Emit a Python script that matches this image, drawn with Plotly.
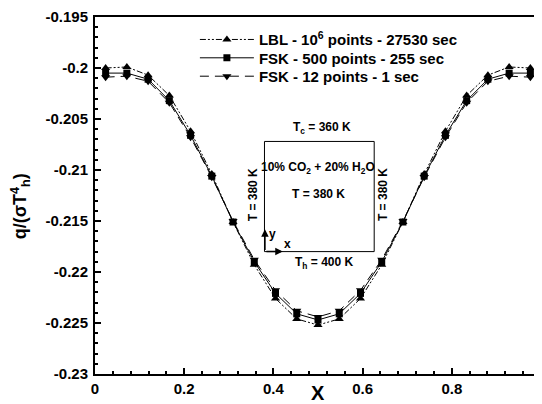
import plotly.graph_objects as go

# Data (cell centres of a 21-cell grid)
x_vals = [(k + 0.5) / 21 for k in range(21)]
lbl_half = [-0.2000, -0.1999, -0.2007, -0.2027, -0.2062, -0.2104, -0.2151, -0.2193, -0.2226, -0.2246, -0.2252]
fsk500_half = [-0.2005, -0.2005, -0.2011, -0.2032, -0.2066, -0.2106, -0.2151, -0.2190, -0.2221, -0.2241, -0.2247]
fsk12_half = [-0.2009, -0.2008, -0.2013, -0.2034, -0.2068, -0.2107, -0.2150, -0.2188, -0.2218, -0.2238, -0.2244]
lbl = lbl_half + lbl_half[-2::-1]
fsk500 = fsk500_half + fsk500_half[-2::-1]
fsk12 = fsk12_half + fsk12_half[-2::-1]

names = ["LBL - 10<sup>6</sup> points - 27530 sec",
         "FSK - 500 points - 255 sec",
         "FSK - 12 points - 1 sec"]

x_ticks = [0, 0.2, 0.4, 0.6, 0.8, 1]
x_ticktext = ["0", "0.2", "0.4", "0.6", "0.8", "1"]
y_ticks = [-0.23, -0.225, -0.22, -0.215, -0.21, -0.205, -0.2, -0.195]
y_ticktext = ["-0.23", "-0.225", "-0.22", "-0.215", "-0.21", "-0.205", "-0.2", "-0.195"]

FONT = "Liberation Sans, Arial, sans-serif"
legend_font = dict(family=FONT, size=15, color="black", weight="bold")

fig = go.Figure()
fig.add_trace(go.Scatter(x=x_vals, y=lbl, name=names[0], mode="lines+markers", legend="legend",
                         line=dict(color="black", width=1, dash="6px,2px,2px,2px,2px,2px"),
                         marker=dict(symbol="triangle-up", size=8, color="black")))
fig.add_trace(go.Scatter(x=x_vals, y=fsk500, name=names[1], mode="lines+markers", legend="legend2",
                         line=dict(color="black", width=1),
                         marker=dict(symbol="square", size=7, color="black")))
fig.add_trace(go.Scatter(x=x_vals, y=fsk12, name=names[2], mode="lines+markers", legend="legend3",
                         line=dict(color="black", width=1, dash="9px,6px"),
                         marker=dict(symbol="triangle-down", size=8, color="black")))

# Inset box (schematic of the enclosure)
fig.add_shape(type="rect", x0=0.380, x1=0.626, y0=-0.2180, y1=-0.2072,
              line=dict(color="black", width=1))

ann_font = dict(family=FONT, size=12, color="black", weight="bold")
annotations = [
    dict(x=0.509, y=-0.2059, text="T<sub>c</sub> = 360 K"),
    dict(x=0.500, y=-0.2098, text="10% CO<sub>2</sub> + 20% H<sub>2</sub>O"),
    dict(x=0.500, y=-0.2124, text="T = 380 K"),
    dict(x=0.515, y=-0.2191, text="T<sub>h</sub> = 400 K"),
    dict(x=0.356, y=-0.2124, text="T = 380 K", textangle=-90),
    dict(x=0.647, y=-0.2124, text="T = 380 K", textangle=-90),
    dict(x=0.398, y=-0.2163, text="y"),
    dict(x=0.432, y=-0.2173, text="x"),
]
for a in annotations:
    fig.add_annotation(xref="x", yref="y", showarrow=False, font=ann_font, **a)

# axis arrows
fig.add_annotation(xref="x", yref="y", axref="x", ayref="y",
                   x=0.381, y=-0.2158, ax=0.381, ay=-0.2180, text="",
                   showarrow=True, arrowhead=2, arrowsize=1, arrowwidth=1.5, arrowcolor="black")
fig.add_annotation(xref="x", yref="y", axref="x", ayref="y",
                   x=0.421, y=-0.2180, ax=0.381, ay=-0.2180, text="",
                   showarrow=True, arrowhead=2, arrowsize=1, arrowwidth=1.5, arrowcolor="black")

# axis titles
fig.add_annotation(xref="paper", yref="paper", x=0.5, y=-0.053, yanchor="middle",
                   showarrow=False, text="X",
                   font=dict(family=FONT, size=20, color="black", weight="bold"))
fig.add_annotation(xref="paper", yref="paper", x=-0.168, y=0.47, xanchor="center",
                   showarrow=False, text="q/(σT<sup>4</sup><sub>h</sub>)", textangle=-90,
                   font=dict(family=FONT, size=18, color="black", weight="bold"))

axis_common = dict(showline=True, linecolor="black", linewidth=2, mirror=True,
                   ticks="inside", ticklen=6, tickwidth=1.5, tickcolor="black",
                   showgrid=False, zeroline=False, automargin=False,
                   ticklabeloverflow="allow",
                   tickfont=dict(family=FONT, size=15, color="black", weight="bold"))

fig.update_xaxes(range=[0, 1], tickvals=x_ticks, ticktext=x_ticktext,
                 minor=dict(dtick=0.04, ticks="inside", ticklen=3, tickcolor="black"),
                 **axis_common)
fig.update_yaxes(range=[-0.23, -0.195], tickvals=y_ticks, ticktext=y_ticktext,
                 minor=dict(dtick=0.001, ticks="inside", ticklen=3, tickcolor="black"),
                 ticklabelstandoff=2,
                 **axis_common)

leg_common = dict(x=0.224, xanchor="left", yanchor="middle", bgcolor="rgba(0,0,0,0)",
                  borderwidth=0, font=legend_font, itemwidth=54)
# The page body has an 8px default margin, so the figure is sized/offset to compensate.
fig.update_layout(
    width=534, height=396,
    margin=dict(l=87, r=1, t=9, b=30),
    paper_bgcolor="white", plot_bgcolor="white",
    showlegend=True,
    legend=dict(y=0.9364, **leg_common),
    legend2=dict(y=0.885, **leg_common),
    legend3=dict(y=0.8335, **leg_common),
)

fig.write_html("out.html")
